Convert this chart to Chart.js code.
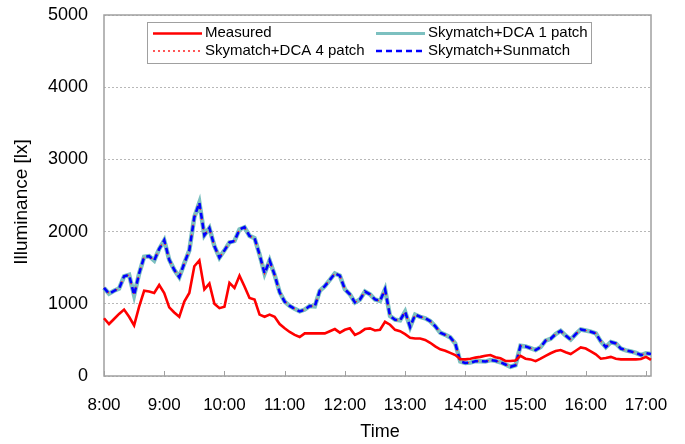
<!DOCTYPE html>
<html>
<head>
<meta charset="utf-8">
<script src="https://cdn.jsdelivr.net/npm/chart.js@4/dist/chart.umd.min.js"></script>
<style>
  html, body { margin: 0; padding: 0; background: #fff; }
  #c { display: block; }
</style>
</head>
<body>
<canvas id="c" width="685" height="444"></canvas>
<script>
// Sample times, every 5 minutes from 8:00 to 17:05
const times = ("8:00 8:05 8:10 8:15 8:20 8:25 8:30 8:35 8:40 8:45 8:50 8:55 " +
  "9:00 9:05 9:10 9:15 9:20 9:25 9:30 9:35 9:40 9:45 9:50 9:55 " +
  "10:00 10:05 10:10 10:15 10:20 10:25 10:30 10:35 10:40 10:45 10:50 10:55 " +
  "11:00 11:05 11:10 11:15 11:20 11:25 11:30 11:35 11:40 11:45 11:50 11:55 " +
  "12:00 12:05 12:10 12:15 12:20 12:25 12:30 12:35 12:40 12:45 12:50 12:55 " +
  "13:00 13:05 13:10 13:15 13:20 13:25 13:30 13:35 13:40 13:45 13:50 13:55 " +
  "14:00 14:05 14:10 14:15 14:20 14:25 14:30 14:35 14:40 14:45 14:50 14:55 " +
  "15:00 15:05 15:10 15:15 15:20 15:25 15:30 15:35 15:40 15:45 15:50 15:55 " +
  "16:00 16:05 16:10 16:15 16:20 16:25 16:30 16:35 16:40 16:45 16:50 16:55 " +
  "17:00 17:05").split(" ");

// Illuminance [lx]
const measured = [
  800, 720, 790, 860, 920, 820, 700, 960, 1180, 1170, 1150, 1260,
  1150, 950, 880, 820, 1030, 1150, 1520, 1600, 1200, 1280, 1000, 940,
  960, 1290, 1220, 1390, 1240, 1080, 1060, 850, 820, 850, 820, 720,
  660, 610, 570, 540, 590, 590, 590, 590, 590, 620, 650, 600,
  640, 660, 570, 600, 650, 660, 630, 640, 750, 710, 640, 620,
  580, 530, 520, 520, 500, 460, 410, 370, 350, 320, 290, 235,
  230, 240, 255, 265, 280, 290, 260, 245, 210, 208, 215, 280,
  240, 230, 205, 240, 280, 315, 345, 360, 330, 305, 350, 395,
  380, 340, 300, 240, 250, 265, 240, 230, 230, 230, 230, 235,
  265, 222
];

const dca1Patch = [
  1220, 1140, 1180, 1210, 1380, 1400, 1120, 1420, 1650, 1660, 1600, 1760,
  1880, 1610, 1470, 1370, 1560, 1740, 2200, 2400, 1950, 2050, 1800, 1640,
  1740, 1850, 1870, 2030, 2060, 1940, 1910, 1680, 1420, 1600, 1400, 1160,
  1030, 970, 930, 895, 920, 970, 965, 1180, 1245, 1330, 1420, 1390,
  1200, 1130, 1020, 1060, 1170, 1130, 1060, 1040, 1200, 830, 780, 770,
  890, 680, 850, 820, 800, 760, 690, 600, 570, 535, 450, 200,
  180, 185, 205, 205, 200, 220, 210, 190, 160, 128, 150, 420,
  410, 385, 360, 400, 490, 515, 580, 625, 560, 505, 580, 645,
  630, 614, 590, 480, 400, 470, 450, 380, 355, 340, 320, 290,
  315, 305
];
// The 4-patch and Sunmatch runs overlap the 1-patch run within a line width
const dca4Patch = dca1Patch.slice();
const sunmatch = dca1Patch.slice();

const yTicks = [0, 1000, 2000, 3000, 4000, 5000];

const FONT = "'Liberation Sans', Arial, Helvetica, sans-serif";
Chart.defaults.font.family = FONT;
Chart.defaults.color = '#000';

const isHour = (lbl) => lbl.endsWith(':00');

// Plot frame plus short inward tick marks on the hour
const framePlugin = {
  id: 'frame',
  beforeDatasetsDraw(chart) {
    const { ctx, chartArea: a, scales: { x } } = chart;
    ctx.save();
    ctx.strokeStyle = '#a0a0a0';
    ctx.lineWidth = 1.5;
    ctx.strokeRect(a.left, a.top, a.right - a.left, a.bottom - a.top);
    ctx.beginPath();
    times.forEach((t, i) => {
      if (!isHour(t)) return;
      const px = Math.round(x.getPixelForValue(i)) + 0.5;
      ctx.moveTo(px, a.bottom);
      ctx.lineTo(px, a.bottom - 5);
    });
    ctx.lineWidth = 1;
    ctx.stroke();
    ctx.restore();
  }
};

// Axis titles
const titlesPlugin = {
  id: 'axisTitles',
  afterDraw(chart) {
    const { ctx } = chart;
    ctx.save();
    ctx.fillStyle = '#000';
    ctx.textAlign = 'center';
    ctx.textBaseline = 'middle';
    ctx.font = '18px ' + FONT;
    ctx.fillText('Time', 380, 432);
    ctx.translate(22, 202);
    ctx.rotate(-Math.PI / 2);
    ctx.font = '19px ' + FONT;
    ctx.fillText('Illuminance [lx]', 0, 0);
    ctx.restore();
  }
};

// Two-column legend box inside the plot
const legendPlugin = {
  id: 'boxLegend',
  afterDatasetsDraw(chart) {
    const { ctx } = chart;
    const ds = chart.data.datasets;
    const slots = [
      { i: 0, x: 153, y: 33.5 },
      { i: 1, x: 376, y: 33.5 },
      { i: 2, x: 153, y: 51 },
      { i: 3, x: 376, y: 51 }
    ];
    ctx.save();
    ctx.fillStyle = '#fff';
    ctx.fillRect(147, 22, 444, 41);
    ctx.strokeStyle = '#a0a0a0';
    ctx.lineWidth = 1;
    ctx.strokeRect(147.5, 22.5, 444, 41);
    slots.forEach(s => {
      const d = ds[s.i];
      ctx.save();
      ctx.strokeStyle = d.borderColor;
      ctx.lineWidth = Math.min(d.borderWidth, 3);
      ctx.setLineDash(d.borderDash || []);
      ctx.beginPath();
      ctx.moveTo(s.x, s.y);
      ctx.lineTo(s.x + 49, s.y);
      ctx.stroke();
      ctx.restore();
      ctx.fillStyle = '#000';
      ctx.font = '15px ' + FONT;
      ctx.textAlign = 'left';
      ctx.textBaseline = 'middle';
      ctx.fillText(d.label, s.x + 52, s.y - 0.5);
    });
    ctx.restore();
  }
};

new Chart(document.getElementById('c'), {
  type: 'line',
  data: {
    labels: times,
    datasets: [
      { label: 'Measured', data: measured, borderColor: '#ff0000', borderWidth: 2.6, order: 0 },
      { label: 'Skymatch+DCA 1 patch', data: dca1Patch, borderColor: '#7cc0c0', borderWidth: 4.5, order: 3 },
      { label: 'Skymatch+DCA 4 patch', data: dca4Patch, borderColor: '#ff2020', borderWidth: 1.3, borderDash: [2, 3], order: 2 },
      { label: 'Skymatch+Sunmatch', data: sunmatch, borderColor: '#0000ff', borderWidth: 2.6, borderDash: [6, 4], order: 1 }
    ]
  },
  options: {
    responsive: false,
    animation: false,
    layout: { padding: { top: 15, right: 34, left: 0, bottom: 0 } },
    elements: { point: { radius: 0 }, line: { tension: 0, borderCapStyle: 'butt' } },
    plugins: { legend: { display: false }, tooltip: { enabled: false } },
    scales: {
      x: {
        type: 'category',
        offset: false,
        grid: { display: false, drawTicks: false },
        border: { display: false },
        ticks: {
          autoSkip: false,
          maxRotation: 0,
          padding: 19,
          font: { size: 17 },
          callback(v, i) { const l = times[i]; return isHour(l) ? l : null; }
        },
        afterFit(s) { s.height = 68; s.paddingLeft = 0; s.paddingRight = 0; }
      },
      y: {
        min: yTicks[0],
        max: yTicks[yTicks.length - 1],
        afterBuildTicks(s) { s.ticks = yTicks.map(v => ({ value: v })); },
        grid: { color: '#b8b8b8', lineWidth: 1, drawTicks: false },
        border: { display: false, dash: [2, 2] },
        ticks: { padding: 16, font: { size: 18 }, callback: (v) => String(v) },
        afterFit(s) { s.width = 104; s.paddingTop = 0; s.paddingBottom = 0; }
      }
    }
  },
  plugins: [framePlugin, legendPlugin, titlesPlugin]
});
</script>
</body>
</html>
